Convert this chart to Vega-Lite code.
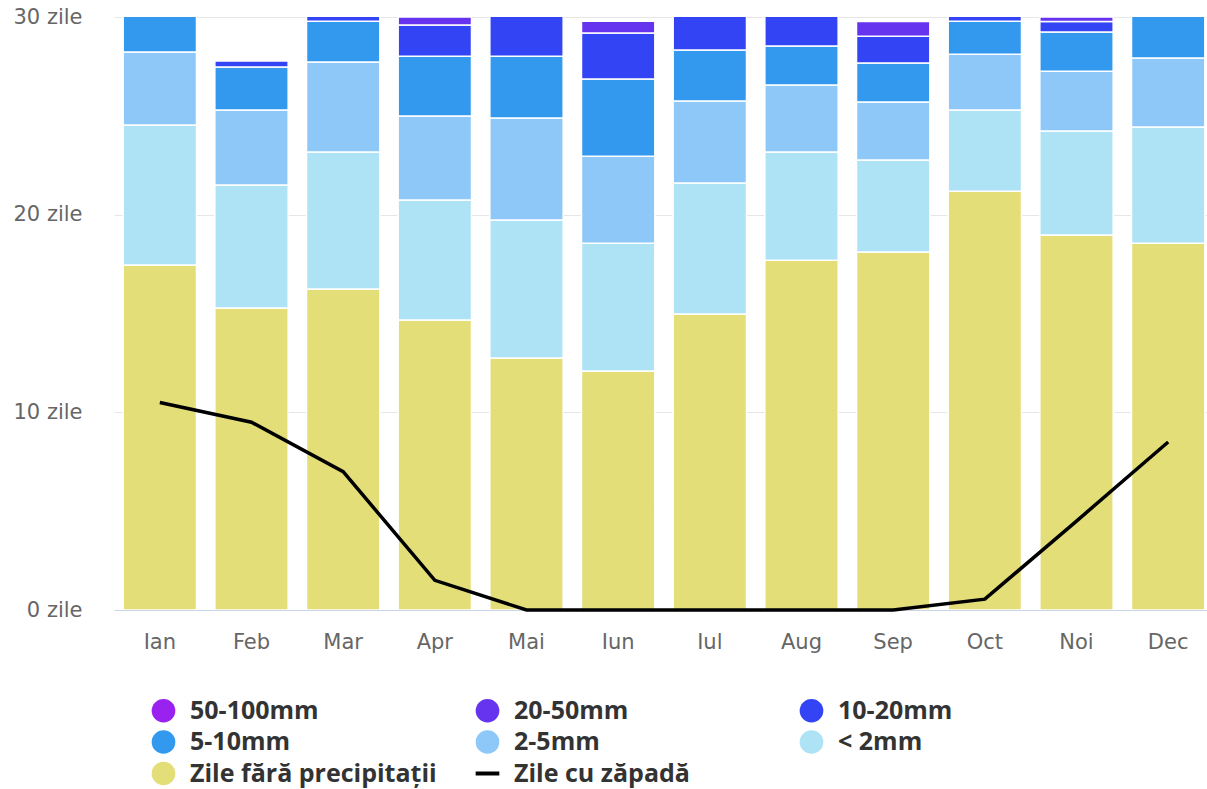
{
  "$schema": "https://vega.github.io/schema/vega-lite/v6.json",
  "width": 1093,
  "height": 593,
  "autosize": {"type": "none"},
  "padding": {"left": 114, "top": 17, "right": 0, "bottom": 179},
  "background": "white",
  "config": {
    "view": {"stroke": null},
    "axis": {"labelFont": "DejaVu Sans", "labelFontSize": 21, "labelColor": "#666666", "title": null}
  },
  "data": {
    "values": [
      {"month": "Ian", "category": "Zile fără precipitații", "days": 17.45},
      {"month": "Ian", "category": "< 2mm", "days": 7.08},
      {"month": "Ian", "category": "2-5mm", "days": 3.7},
      {"month": "Ian", "category": "5-10mm", "days": 2.77},
      {"month": "Ian", "category": "Zile cu zăpadă", "days": 10.5},
      {"month": "Feb", "category": "Zile fără precipitații", "days": 15.28},
      {"month": "Feb", "category": "< 2mm", "days": 6.22},
      {"month": "Feb", "category": "2-5mm", "days": 3.79},
      {"month": "Feb", "category": "5-10mm", "days": 2.18},
      {"month": "Feb", "category": "10-20mm", "days": 0.3},
      {"month": "Feb", "category": "Zile cu zăpadă", "days": 9.5},
      {"month": "Mar", "category": "Zile fără precipitații", "days": 16.24},
      {"month": "Mar", "category": "< 2mm", "days": 6.93},
      {"month": "Mar", "category": "2-5mm", "days": 4.55},
      {"month": "Mar", "category": "5-10mm", "days": 2.07},
      {"month": "Mar", "category": "10-20mm", "days": 1.21},
      {"month": "Mar", "category": "Zile cu zăpadă", "days": 7.0},
      {"month": "Apr", "category": "Zile fără precipitații", "days": 14.67},
      {"month": "Apr", "category": "< 2mm", "days": 6.07},
      {"month": "Apr", "category": "2-5mm", "days": 4.25},
      {"month": "Apr", "category": "5-10mm", "days": 3.03},
      {"month": "Apr", "category": "10-20mm", "days": 1.57},
      {"month": "Apr", "category": "20-50mm", "days": 0.41},
      {"month": "Apr", "category": "Zile cu zăpadă", "days": 1.5},
      {"month": "Mai", "category": "Zile fără precipitații", "days": 12.75},
      {"month": "Mai", "category": "< 2mm", "days": 6.98},
      {"month": "Mai", "category": "2-5mm", "days": 5.16},
      {"month": "Mai", "category": "5-10mm", "days": 3.13},
      {"month": "Mai", "category": "10-20mm", "days": 2.98},
      {"month": "Mai", "category": "Zile cu zăpadă", "days": 0},
      {"month": "Iun", "category": "Zile fără precipitații", "days": 12.09},
      {"month": "Iun", "category": "< 2mm", "days": 6.47},
      {"month": "Iun", "category": "2-5mm", "days": 4.4},
      {"month": "Iun", "category": "5-10mm", "days": 3.9},
      {"month": "Iun", "category": "10-20mm", "days": 2.33},
      {"month": "Iun", "category": "20-50mm", "days": 0.6},
      {"month": "Iun", "category": "Zile cu zăpadă", "days": 0},
      {"month": "Iul", "category": "Zile fără precipitații", "days": 14.97},
      {"month": "Iul", "category": "< 2mm", "days": 6.63},
      {"month": "Iul", "category": "2-5mm", "days": 4.15},
      {"month": "Iul", "category": "5-10mm", "days": 2.58},
      {"month": "Iul", "category": "10-20mm", "days": 2.67},
      {"month": "Iul", "category": "Zile cu zăpadă", "days": 0},
      {"month": "Aug", "category": "Zile fără precipitații", "days": 17.7},
      {"month": "Aug", "category": "< 2mm", "days": 5.47},
      {"month": "Aug", "category": "2-5mm", "days": 3.39},
      {"month": "Aug", "category": "5-10mm", "days": 1.97},
      {"month": "Aug", "category": "10-20mm", "days": 2.47},
      {"month": "Aug", "category": "Zile cu zăpadă", "days": 0},
      {"month": "Sep", "category": "Zile fără precipitații", "days": 18.11},
      {"month": "Sep", "category": "< 2mm", "days": 4.65},
      {"month": "Sep", "category": "2-5mm", "days": 2.94},
      {"month": "Sep", "category": "5-10mm", "days": 1.97},
      {"month": "Sep", "category": "10-20mm", "days": 1.36},
      {"month": "Sep", "category": "20-50mm", "days": 0.74},
      {"month": "Sep", "category": "Zile cu zăpadă", "days": 0},
      {"month": "Oct", "category": "Zile fără precipitații", "days": 21.19},
      {"month": "Oct", "category": "< 2mm", "days": 4.1},
      {"month": "Oct", "category": "2-5mm", "days": 2.83},
      {"month": "Oct", "category": "5-10mm", "days": 1.67},
      {"month": "Oct", "category": "10-20mm", "days": 1.21},
      {"month": "Oct", "category": "Zile cu zăpadă", "days": 0.55},
      {"month": "Noi", "category": "Zile fără precipitații", "days": 18.97},
      {"month": "Noi", "category": "< 2mm", "days": 5.26},
      {"month": "Noi", "category": "2-5mm", "days": 3.03},
      {"month": "Noi", "category": "5-10mm", "days": 1.98},
      {"month": "Noi", "category": "10-20mm", "days": 0.53},
      {"month": "Noi", "category": "20-50mm", "days": 0.23},
      {"month": "Noi", "category": "Zile cu zăpadă", "days": 4.5},
      {"month": "Dec", "category": "Zile fără precipitații", "days": 18.56},
      {"month": "Dec", "category": "< 2mm", "days": 5.87},
      {"month": "Dec", "category": "2-5mm", "days": 3.49},
      {"month": "Dec", "category": "5-10mm", "days": 3.08},
      {"month": "Dec", "category": "Zile cu zăpadă", "days": 8.5}
    ]
  },
  "transform": [
    {"calculate": "indexof(['Zile fără precipitații', '< 2mm', '2-5mm', '5-10mm', '10-20mm', '20-50mm', '50-100mm'], datum.category)", "as": "stackOrder"}
  ],
  "encoding": {
    "x": {
      "field": "month",
      "type": "nominal",
      "sort": ["Ian", "Feb", "Mar", "Apr", "Mai", "Iun", "Iul", "Aug", "Sep", "Oct", "Noi", "Dec"],
      "scale": {"range": [0, 1100], "paddingInner": 0.2, "paddingOuter": 0.1},
      "axis": {"labelAngle": 0, "ticks": false, "tickSize": 0, "labelPadding": 21, "domainColor": "#ccd6eb", "domainWidth": 1, "grid": false}
    }
  },
  "layer": [
    {
      "transform": [{"filter": "datum.category !== 'Zile cu zăpadă'"}],
      "mark": {"type": "bar", "clip": true, "stroke": "white", "strokeWidth": 1.5},
      "encoding": {
        "y": {
          "field": "days",
          "type": "quantitative",
          "stack": "zero",
          "scale": {"domain": [0, 30], "nice": false},
          "axis": {"values": [0, 10, 20, 30], "labelExpr": "datum.value + ' zile'", "grid": true, "gridColor": "#e6e6e6", "domain": false, "ticks": false, "tickSize": 0, "labelPadding": 32}
        },
        "color": {
          "field": "category",
          "type": "nominal",
          "scale": {
            "domain": ["50-100mm", "20-50mm", "10-20mm", "5-10mm", "2-5mm", "< 2mm", "Zile fără precipitații", "Zile cu zăpadă"],
            "range": ["#9922ee", "#6633ee", "#3344f5", "#3399ee", "#8ec8f8", "#ade3f5", "#e3de78", "#000000"]
          },
          "legend": {
            "orient": "none",
            "direction": "horizontal",
            "legendX": 37,
            "legendY": 681,
            "columns": 3,
            "columnPadding": 30,
            "rowPadding": 5.5,
            "gridAlign": "all",
            "title": null,
            "padding": 0,
            "symbolType": {"expr": "datum.value === 'Zile cu zăpadă' ? 'stroke' : 'circle'"},
            "symbolStrokeWidth": {"expr": "datum.value === 'Zile cu zăpadă' ? 4 : 0"},
            "symbolStrokeColor": "#000000",
            "symbolSize": 560,
            "symbolOpacity": 1,
            "labelFont": "Open Sans",
            "labelFontWeight": "bold",
            "labelFontSize": 25,
            "labelColor": "#333333",
            "labelOffset": 14,
            "labelLimit": 400
          }
        },
        "order": {"field": "stackOrder", "type": "quantitative", "sort": "ascending"}
      }
    },
    {
      "transform": [{"filter": "datum.category === 'Zile cu zăpadă'"}],
      "mark": {"type": "line", "strokeWidth": 3.5},
      "encoding": {
        "y": {"field": "days", "type": "quantitative"},
        "color": {"field": "category", "type": "nominal"}
      }
    }
  ]
}
